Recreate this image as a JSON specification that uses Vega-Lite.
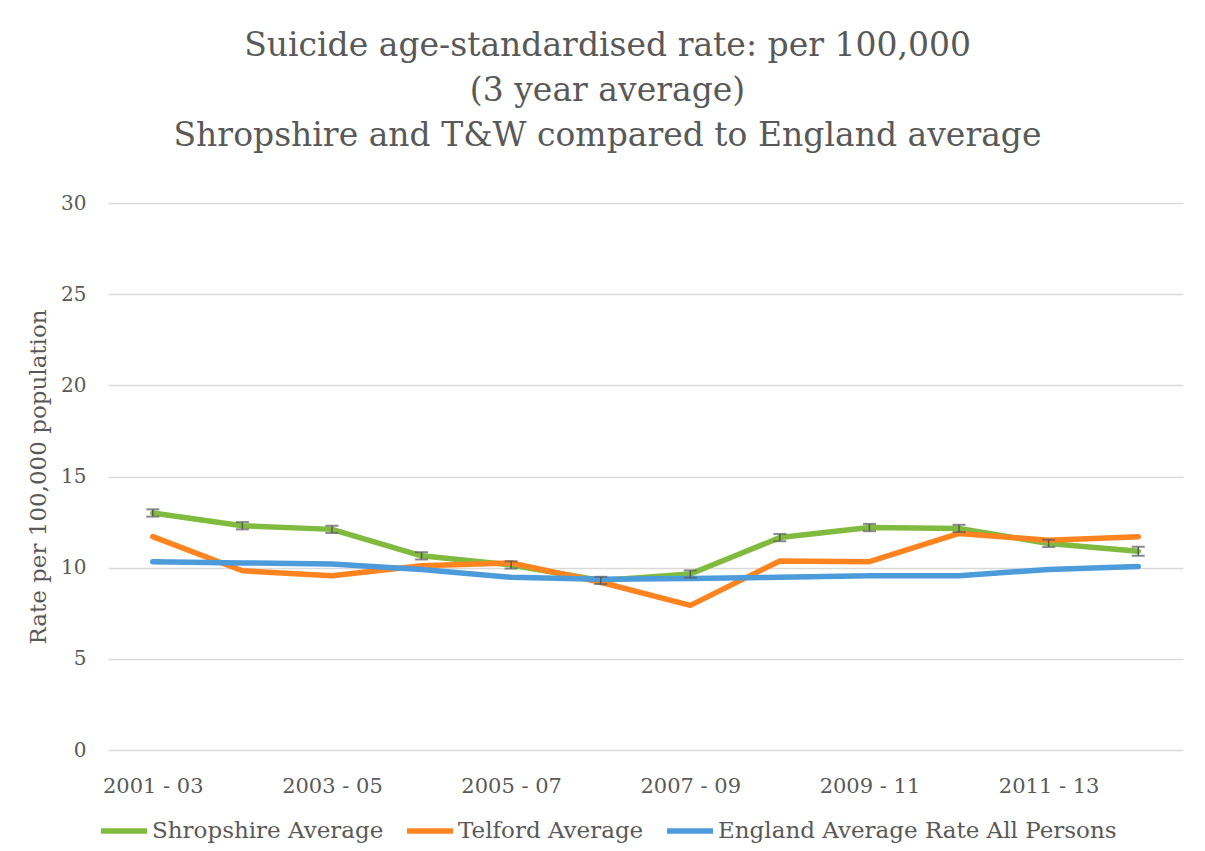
{
  "$schema": "https://vega.github.io/schema/vega-lite/v6.json",
  "width": 1075,
  "height": 547,
  "autosize": {"type": "none"},
  "padding": {"left": 108, "top": 203, "right": 22, "bottom": 101},
  "background": "white",
  "title": {
    "text": ["Suicide age-standardised rate: per 100,000", "(3 year average)", "Shropshire  and T&W compared to England average"],
    "font": "DejaVu Serif",
    "fontSize": 33,
    "fontWeight": "normal",
    "color": "#595959",
    "lineHeight": 45,
    "anchor": "middle",
    "frame": "group",
    "dx": -38,
    "offset": 40
  },
  "config": {
    "view": {"stroke": null},
    "font": "DejaVu Serif"
  },
  "data": {
    "values": [
      {"period": "2001 - 03", "series": "Shropshire Average", "rate": 13.0, "lo": 12.8, "hi": 13.2},
      {"period": "2002 - 04", "series": "Shropshire Average", "rate": 12.3, "lo": 12.1, "hi": 12.5},
      {"period": "2003 - 05", "series": "Shropshire Average", "rate": 12.1, "lo": 11.9, "hi": 12.3},
      {"period": "2004 - 06", "series": "Shropshire Average", "rate": 10.65, "lo": 10.45, "hi": 10.85},
      {"period": "2005 - 07", "series": "Shropshire Average", "rate": 10.15, "lo": 9.95, "hi": 10.35},
      {"period": "2006 - 08", "series": "Shropshire Average", "rate": 9.3, "lo": 9.1, "hi": 9.5},
      {"period": "2007 - 09", "series": "Shropshire Average", "rate": 9.65, "lo": 9.45, "hi": 9.85},
      {"period": "2008 - 10", "series": "Shropshire Average", "rate": 11.65, "lo": 11.45, "hi": 11.85},
      {"period": "2009 - 11", "series": "Shropshire Average", "rate": 12.2, "lo": 12.0, "hi": 12.4},
      {"period": "2010 - 12", "series": "Shropshire Average", "rate": 12.15, "lo": 11.95, "hi": 12.35},
      {"period": "2011 - 13", "series": "Shropshire Average", "rate": 11.33, "lo": 11.13, "hi": 11.53},
      {"period": "2012 - 14", "series": "Shropshire Average", "rate": 10.9, "lo": 10.65, "hi": 11.15},
      {"period": "2001 - 03", "series": "Telford Average", "rate": 11.7},
      {"period": "2002 - 04", "series": "Telford Average", "rate": 9.83},
      {"period": "2003 - 05", "series": "Telford Average", "rate": 9.56},
      {"period": "2004 - 06", "series": "Telford Average", "rate": 10.1},
      {"period": "2005 - 07", "series": "Telford Average", "rate": 10.26},
      {"period": "2006 - 08", "series": "Telford Average", "rate": 9.2},
      {"period": "2007 - 09", "series": "Telford Average", "rate": 7.93},
      {"period": "2008 - 10", "series": "Telford Average", "rate": 10.37},
      {"period": "2009 - 11", "series": "Telford Average", "rate": 10.33},
      {"period": "2010 - 12", "series": "Telford Average", "rate": 11.88},
      {"period": "2011 - 13", "series": "Telford Average", "rate": 11.5},
      {"period": "2012 - 14", "series": "Telford Average", "rate": 11.7},
      {"period": "2001 - 03", "series": "England Average Rate All Persons", "rate": 10.33},
      {"period": "2002 - 04", "series": "England Average Rate All Persons", "rate": 10.26},
      {"period": "2003 - 05", "series": "England Average Rate All Persons", "rate": 10.2},
      {"period": "2004 - 06", "series": "England Average Rate All Persons", "rate": 9.9},
      {"period": "2005 - 07", "series": "England Average Rate All Persons", "rate": 9.47},
      {"period": "2006 - 08", "series": "England Average Rate All Persons", "rate": 9.36},
      {"period": "2007 - 09", "series": "England Average Rate All Persons", "rate": 9.4},
      {"period": "2008 - 10", "series": "England Average Rate All Persons", "rate": 9.47},
      {"period": "2009 - 11", "series": "England Average Rate All Persons", "rate": 9.56},
      {"period": "2010 - 12", "series": "England Average Rate All Persons", "rate": 9.56},
      {"period": "2011 - 13", "series": "England Average Rate All Persons", "rate": 9.9},
      {"period": "2012 - 14", "series": "England Average Rate All Persons", "rate": 10.07}
    ]
  },
  "encoding": {
    "x": {
      "field": "period",
      "type": "ordinal",
      "scale": {"type": "point", "padding": 0.5},
      "axis": {
        "title": null,
        "values": ["2001 - 03", "2003 - 05", "2005 - 07", "2007 - 09", "2009 - 11", "2011 - 13"],
        "labelAngle": 0,
        "labelFont": "DejaVu Serif",
        "labelFontSize": 21,
        "labelColor": "#595959",
        "labelPadding": 25,
        "ticks": false,
        "domain": false,
        "grid": false
      }
    }
  },
  "layer": [
    {
      "mark": {"type": "line", "strokeWidth": 5.5, "strokeCap": "round", "strokeJoin": "round"},
      "encoding": {
        "y": {
          "field": "rate",
          "type": "quantitative",
          "scale": {"domain": [0, 30], "nice": false},
          "axis": {
            "title": "Rate per 100,000 population",
            "titleFont": "DejaVu Serif",
            "titleFontSize": 23,
            "titleFontWeight": "normal",
            "titleColor": "#595959",
            "titlePadding": 10,
            "values": [0, 5, 10, 15, 20, 25, 30],
            "labelFont": "DejaVu Serif",
            "labelFontSize": 20,
            "labelColor": "#595959",
            "labelPadding": 22,
            "ticks": false,
            "domain": false,
            "gridColor": "#d9d9d9",
            "gridWidth": 1.5
          }
        },
        "color": {
          "field": "series",
          "type": "nominal",
          "scale": {
            "domain": ["Shropshire Average", "Telford Average", "England Average Rate All Persons"],
            "range": ["#80BB3F", "#FF8420", "#4C9BDB"]
          },
          "legend": {
            "title": null,
            "orient": "none",
            "direction": "horizontal",
            "legendX": -10,
            "legendY": 602,
            "labelFont": "DejaVu Serif",
            "labelFontSize": 23,
            "labelColor": "#595959",
            "labelOffset": 2,
            "labelLimit": 600,
            "symbolType": "stroke",
            "symbolSize": 2116,
            "symbolStrokeWidth": 5.5,
            "columnPadding": 12
          }
        }
      }
    },
    {
      "transform": [{"filter": "isValid(datum.lo)"}],
      "mark": {"type": "rule", "color": "#595959", "strokeWidth": 1.5},
      "encoding": {
        "y": {"field": "lo", "type": "quantitative"},
        "y2": {"field": "hi"}
      }
    },
    {
      "transform": [{"filter": "isValid(datum.lo)"}],
      "mark": {"type": "tick", "color": "#595959", "size": 13, "thickness": 2},
      "encoding": {
        "y": {"field": "lo", "type": "quantitative"}
      }
    },
    {
      "transform": [{"filter": "isValid(datum.hi)"}],
      "mark": {"type": "tick", "color": "#595959", "size": 13, "thickness": 2},
      "encoding": {
        "y": {"field": "hi", "type": "quantitative"}
      }
    }
  ]
}
